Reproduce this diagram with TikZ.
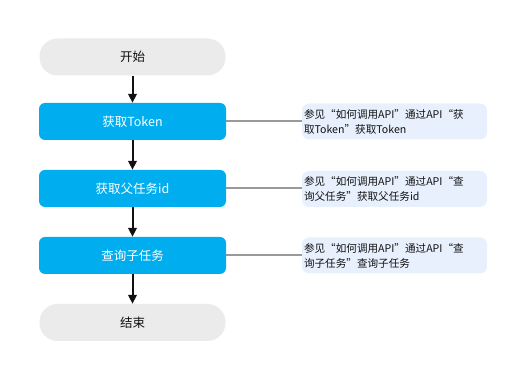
\documentclass[tikz,border=0pt]{standalone}
\usepackage{fontspec}
\setmainfont{Noto Sans CJK SC}
\usetikzlibrary{arrows.meta,positioning}
\definecolor{flink}{HTML}{111111}
\definecolor{flblue}{HTML}{00AEEF}
\definecolor{flgray}{HTML}{EBEBEB}
\definecolor{flnote}{HTML}{E8F0FE}
\definecolor{flline}{HTML}{999999}
\tikzset{
  fl term/.style={fill=flgray, rounded corners=18pt, minimum width=186pt,
    minimum height=37pt, font=\fontsize{12.5}{15}\selectfont, text=flink},
  fl step/.style={fill=flblue, rounded corners=6pt, minimum width=187pt,
    minimum height=37pt, font=\fontsize{12.5}{15}\selectfont, text=white},
  fl note/.style={fill=flnote, rounded corners=7pt, minimum width=185pt,
    minimum height=36pt, text width=181pt, align=left, inner xsep=2pt,
    font=\fontsize{10.6}{15}\selectfont, text=flink},
  fl arrow/.style={-{Triangle[length=9pt,width=8.5pt]}, line width=2pt, draw=flink},
  fl link/.style={line width=2pt, draw=flline}
}
\begin{document}
\begin{tikzpicture}[x=1pt, y=1pt]
  \useasboundingbox (0,0) rectangle (525,379);
  % main flow
  \node[fl term] (start) at (132.5,322) {开始};
  \node[fl step] (token) at (132.5,257.5) {获取Token};
  \node[fl step] (parent) at (132.5,190.5) {获取父任务id};
  \node[fl step] (child) at (132.5,123.5) {查询子任务};
  \node[fl term] (finish) at (132.5,56.5) {结束};
  % notes
  \node[fl note] (notetoken) at (394.5,257.5) {参见“如何调用API”通过API“获\\取Token”获取Token};
  \node[fl note] (noteparent) at (394.5,190) {参见“如何调用API”通过API“查\\询父任务”获取父任务id};
  \node[fl note] (notechild) at (394.5,123.5) {参见“如何调用API”通过API“查\\询子任务”查询子任务};
  \draw[fl arrow] (start) -- (token);
  \draw[fl arrow] (token) -- (parent);
  \draw[fl arrow] (parent) -- (child);
  \draw[fl arrow] (child) -- (finish);
  \draw[fl link] (token.east) -- (notetoken.west);
  \draw[fl link] (parent.east) -- (noteparent.west |- parent.east);
  \draw[fl link] (child.east) -- (notechild.west |- child.east);
\end{tikzpicture}
\end{document}
